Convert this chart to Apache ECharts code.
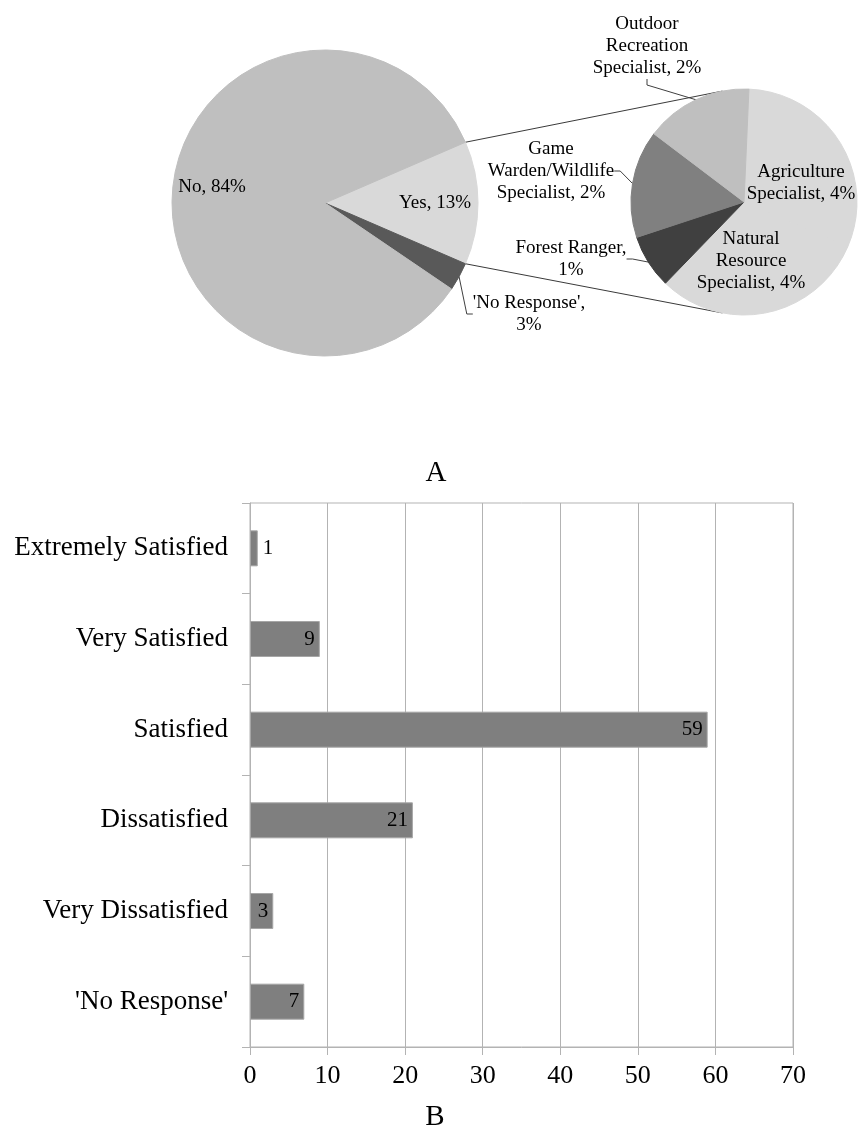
<!DOCTYPE html>
<html>
<head>
<meta charset="utf-8">
<script src="https://cdn.jsdelivr.net/npm/echarts@6/dist/echarts.min.js"></script>
<style>
  html, body { margin: 0; background: #fff; }
  #chart { width: 858px; height: 1128px; }
</style>
</head>
<body>
<div id="chart"></div>
<script>
// Panel A: pie of pie (share of respondents, %). Panel B: satisfaction counts.
const mainNames = ["Yes", "'No Response'", "No"]
const mainValues = [13, 3, 84]
const mainColors = ["#d9d9d9", "#595959", "#bfbfbf"]

const subNames = [
  "Agriculture\nSpecialist",
  "Natural\nResource\nSpecialist",
  "Forest Ranger",
  "Game\nWarden/Wildlife\nSpecialist",
  "Outdoor\nRecreation\nSpecialist",
]
const subValues = [4, 4, 1, 2, 2]
const subColors = ["#d9d9d9", "#d9d9d9", "#404040", "#808080", "#bfbfbf"]

const satisfaction = [
  "Extremely Satisfied",
  "Very Satisfied",
  "Satisfied",
  "Dissatisfied",
  "Very Dissatisfied",
  "'No Response'",
]
const counts = [1, 9, 59, 21, 3, 7]
const xMin = 0
const xMax = 70
const xStep = 10

const SERIF = "'Liberation Serif', 'Times New Roman', serif"
const INK = "#000"
const RULE = "#b3b3b3"

// pie geometry
const MAIN = {cx: 325, cy: 203, r: 153}
const SUB = {cx: 744, cy: 202, r: 113}
const mainTotal = mainValues.reduce((a, b) => a + b, 0)
const yesHalf = 180 * mainValues[0] / mainTotal // "Yes" is centred on 3 o'clock
const subStart = 87.5
const joinAngle = 101 // where the connector lines meet the small pie

// label anchor points (centre of each text block)
const mainLabelAt = [[435, 203], [529, 314], [212, 187]]
const subLabelAt = [[801, 183], [751, 261], [571, 259], [551, 171], [647, 46]]
const mainOutside = [false, true, false]
const subOutside = [false, false, true, true, true]
const breakAfterComma = new Set(["'No Response'", "Forest Ranger"])

const pieText = (p) => p.name + "," + (breakAfterComma.has(p.name) ? "\n" : " ") + p.value + "%"

const pieLabel = {
  show: true,
  color: INK,
  fontFamily: SERIF,
  fontSize: 19,
  lineHeight: 22,
  align: "center",
  formatter: pieText,
}

const pieLine = {
  show: true,
  length: 8,
  length2: 6,
  smooth: false,
  lineStyle: {color: "#404040", width: 1},
}

// a hairline border in the slice's own colour hides the seam between
// same-coloured neighbours
function pieData(names, values, colors, outside) {
  return names.map((name, i) => ({
    name,
    value: values[i],
    itemStyle: {color: colors[i], borderColor: colors[i], borderWidth: 1},
    label: {position: outside[i] ? "outside" : "inside"},
    labelLine: {show: outside[i]},
  }))
}

function placeAt(spots) {
  return (p) => ({
    x: spots[p.dataIndex][0],
    y: spots[p.dataIndex][1],
    align: "center",
    verticalAlign: "middle",
  })
}

function rim(g, deg) {
  const a = deg * Math.PI / 180
  return [g.cx + g.r * Math.cos(a), g.cy - g.r * Math.sin(a)]
}

const chart = echarts.init(document.getElementById("chart"), null, {renderer: "canvas"})

chart.setOption({
  animation: false,
  backgroundColor: "#fff",
  textStyle: {fontFamily: SERIF, color: INK},
  graphic: [
    {type: "line", z: 0, shape: {x1: rim(MAIN, yesHalf)[0], y1: rim(MAIN, yesHalf)[1], x2: rim(SUB, joinAngle)[0], y2: rim(SUB, joinAngle)[1]}, style: {stroke: "#3a3a3a", lineWidth: 1}},
    {type: "line", z: 0, shape: {x1: rim(MAIN, -yesHalf)[0], y1: rim(MAIN, -yesHalf)[1], x2: rim(SUB, -joinAngle)[0], y2: rim(SUB, -joinAngle)[1]}, style: {stroke: "#3a3a3a", lineWidth: 1}},
    {type: "text", x: 436, y: 473, style: {text: "A", font: "29px " + SERIF, fill: INK, align: "center", verticalAlign: "middle"}},
    {type: "text", x: 435, y: 1117, style: {text: "B", font: "29px " + SERIF, fill: INK, align: "center", verticalAlign: "middle"}},
  ],
  grid: {left: 250, right: 65, top: 503, bottom: 81, show: true, borderColor: RULE, borderWidth: 1},
  xAxis: {
    type: "value",
    min: xMin,
    max: xMax,
    interval: xStep,
    axisLine: {show: true, lineStyle: {color: RULE}},
    axisTick: {show: true, length: 8, lineStyle: {color: RULE}},
    splitLine: {show: true, lineStyle: {color: RULE, width: 1}},
    axisLabel: {color: INK, fontFamily: SERIF, fontSize: 26, margin: 16},
  },
  yAxis: {
    type: "category",
    inverse: true,
    data: satisfaction,
    axisLine: {show: true, lineStyle: {color: RULE}},
    axisTick: {show: true, length: 8, lineStyle: {color: RULE}},
    axisLabel: {color: INK, fontFamily: SERIF, fontSize: 27, margin: 22},
  },
  series: [
    {
      type: "pie",
      center: [MAIN.cx, MAIN.cy],
      radius: [0, MAIN.r],
      startAngle: yesHalf,
      clockwise: true,
      avoidLabelOverlap: false,
      emphasis: {disabled: true},
      silent: true,
      label: pieLabel,
      labelLine: pieLine,
      labelLayout: placeAt(mainLabelAt),
      data: pieData(mainNames, mainValues, mainColors, mainOutside),
    },
    {
      type: "pie",
      center: [SUB.cx, SUB.cy],
      radius: [0, SUB.r],
      startAngle: subStart,
      clockwise: true,
      avoidLabelOverlap: false,
      emphasis: {disabled: true},
      silent: true,
      label: pieLabel,
      labelLine: pieLine,
      labelLayout: placeAt(subLabelAt),
      data: pieData(subNames, subValues, subColors, subOutside),
    },
    {
      type: "bar",
      barWidth: 36,
      silent: true,
      itemStyle: {color: "#7f7f7f", borderColor: "#a6a6a6", borderWidth: 1},
      label: {show: true, color: INK, fontFamily: SERIF, fontSize: 21, distance: 5},
      data: counts.map((v) => ({
        value: v,
        label: {position: v < 2 ? "right" : "insideRight"},
      })),
    },
  ],
})
</script>
</body>
</html>
